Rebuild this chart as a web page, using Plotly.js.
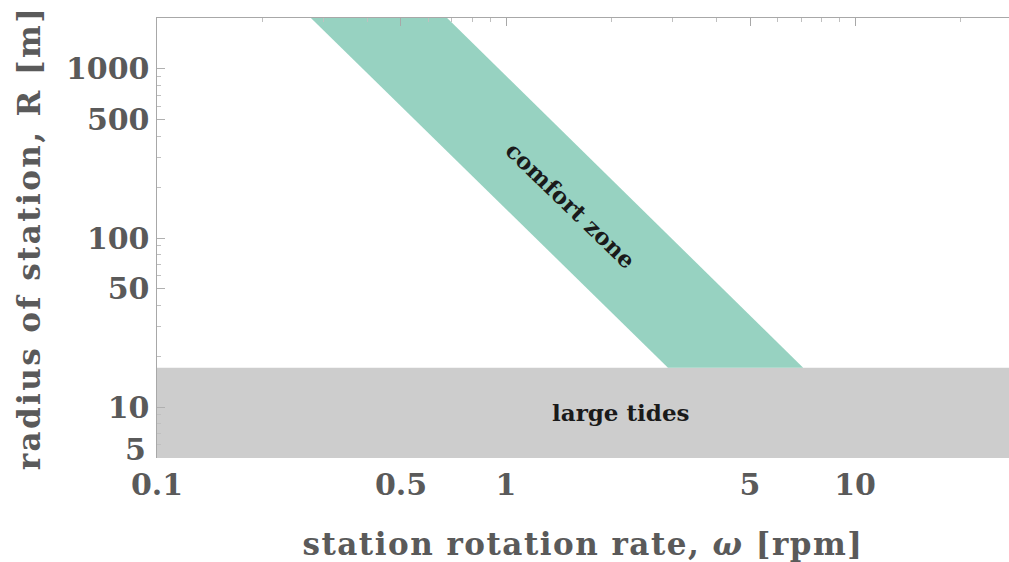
<!DOCTYPE html>
<html>
<head>
<meta charset="utf-8">
<script src="https://cdn.plot.ly/plotly-3.0.1.min.js"></script>
<style>
html,body{margin:0;padding:0;background:#fff;}
#chart{width:1009px;height:562px;}
.g-xtitle text{letter-spacing:1.5px;}
.g-ytitle text{letter-spacing:2.4px;}
</style>
</head>
<body>
<div id="chart"></div>
<script>
// Comfort zone band (rpm, radius m)
var comfortOmega = [0.276, 0.678, 7.10, 2.91, 0.276];
var comfortR     = [2000, 2000, 17.1, 17.1, 2000];
// Large tides region
var tidesOmega = [0.1, 27.6, 27.6, 0.1, 0.1];
var tidesR     = [5, 5, 17.1, 17.1, 5];
// Axis ticks
var xTickVals = [0.1, 0.5, 1, 5, 10];
var xTickText = ['0.1', '0.5', '1', '5', '10'];
var yTickVals = [5, 10, 50, 100, 500, 1000];
var yTickText = ['', '10', '50', '100', '500', '1000'];
var yBottomLabel = '5';
var xMinor = [0.2,0.3,0.4,0.6,0.7,0.8,0.9,2,3,4,6,7,8,9,20];
var yMinor = [6,7,8,9,20,30,40,60,70,80,90,200,300,400,600,700,800,900,2000];
// Labels
var labels = [
  {text: 'comfort zone', x: 1.525, y: 157, angle: 44},
  {text: 'large tides', x: 2.135, y: 9.33, angle: 0}
];

var serif = 'DejaVu Serif, Liberation Serif, serif';
var grey = '#5a5a5a';
var xRange = [Math.log10(0.1), Math.log10(27.6)];
var yRange = [Math.log10(5), Math.log10(2000)];

var traces = [
  {x: tidesOmega, y: tidesR, type: 'scatter', mode: 'lines', fill: 'toself',
   fillcolor: '#cdcdcd', line: {width: 0, color: '#cdcdcd'}, hoverinfo: 'skip', showlegend: false},
  {x: comfortOmega, y: comfortR, type: 'scatter', mode: 'lines', fill: 'toself',
   fillcolor: '#97d2c1', line: {width: 0, color: '#97d2c1'}, hoverinfo: 'skip', showlegend: false},
  {x: [0.1], y: [5], xaxis: 'x2', type: 'scatter', mode: 'markers', marker: {opacity: 0}, hoverinfo: 'skip', showlegend: false}
];

var annots = labels.map(function(l){
  return {x: Math.log10(l.x), y: Math.log10(l.y), xref: 'x', yref: 'y', text: l.text,
    showarrow: false, textangle: l.angle,
    font: {family: serif, size: 23, color: '#1a1a1a', weight: 'bold'}};
});
annots.push({x: 0, y: Math.log10(yTickVals[0]), xref: 'paper', yref: 'y', text: yBottomLabel,
  showarrow: false, xanchor: 'right', yanchor: 'middle', xshift: -9, yshift: 9,
  font: {family: serif, size: 30, color: grey, weight: 'bold'}});

var layout = {
  width: 1009, height: 562,
  margin: {l: 157, r: 0, t: 18, b: 104},
  paper_bgcolor: '#ffffff', plot_bgcolor: '#ffffff',
  showlegend: false,
  xaxis: {
    type: 'log', range: xRange, showgrid: false, zeroline: false,
    showline: false, ticks: '', tickmode: 'array', tickvals: xTickVals, ticktext: xTickText,
    ticklabelstandoff: 6,
    tickfont: {family: serif, size: 30, color: grey, weight: 'bold'},
    title: {text: 'station rotation rate, <i>ω</i> [rpm]', font: {family: serif, size: 31, color: grey, weight: 'bold'}, standoff: 34}
  },
  xaxis2: {
    type: 'log', range: xRange, overlaying: 'x', side: 'top', showgrid: false, zeroline: false,
    showline: true, linecolor: '#a8a8a8', linewidth: 1.5, showticklabels: false,
    ticks: 'inside', ticklen: 8, tickcolor: '#a8a8a8', tickwidth: 1,
    tickmode: 'array', tickvals: xTickVals,
    minor: {ticks: 'inside', ticklen: 4, tickcolor: '#c0c0c0', tickmode: 'array', tickvals: xMinor}
  },
  yaxis: {
    type: 'log', range: yRange, showgrid: false, zeroline: false,
    showline: true, linecolor: '#a8a8a8', linewidth: 1.5,
    ticks: 'inside', ticklen: 8, tickcolor: '#b0b0b0', tickwidth: 1,
    tickmode: 'array', tickvals: yTickVals, ticktext: yTickText,
    minor: {ticks: 'inside', ticklen: 4, tickcolor: '#c0c0c0', tickmode: 'array', tickvals: yMinor},
    tickfont: {family: serif, size: 30, color: grey, weight: 'bold'},
    title: {text: 'radius of station, R [m]', font: {family: serif, size: 31, color: grey, weight: 'bold'}, standoff: 16}
  },
  annotations: annots
};

Plotly.newPlot('chart', traces, layout, {displayModeBar: false, staticPlot: true});
</script>
</body>
</html>
